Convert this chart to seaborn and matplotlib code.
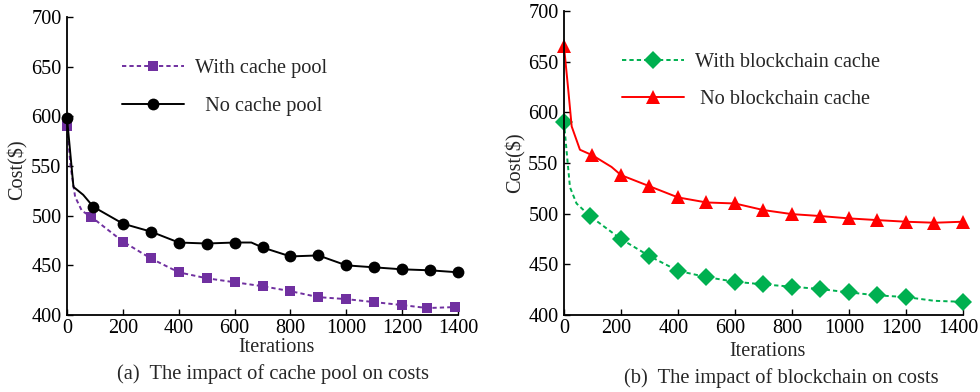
import numpy as np
import pandas as pd
import seaborn as sns
import matplotlib.pyplot as plt
from matplotlib.transforms import ScaledTranslation

# (a) cache pool -- line points incl. the knee right after iteration 0
pool_x = [0, 13, 29, 53, 86, 200, 300, 400, 500, 600, 700, 800, 900, 1000, 1100, 1200, 1290, 1390]
pool_y = [590, 549, 519, 505, 499, 474, 457, 443, 437, 433, 429, 424, 418, 416, 413, 410, 407, 408]
pool_marks = [0] + list(range(4, 18))

nopool_x = [0, 23, 58, 94, 200, 300, 400, 500, 600, 660, 700, 800, 900, 1000, 1100, 1200, 1300, 1400]
nopool_y = [598, 529, 521, 509, 492, 484, 473, 472, 473, 473, 468, 459, 460, 450, 448, 446, 445, 443]
nopool_marks = [0, 3, 4, 5, 6, 7, 8, 10, 11, 12, 13, 14, 15, 16, 17]

# (b) blockchain cache
bc_x = [0, 9, 21, 44, 91, 200, 300, 400, 500, 600, 700, 800, 900, 1000, 1100, 1200, 1300, 1400]
bc_y = [590.6, 562, 526, 510, 497.6, 474.9, 458.1, 443.6, 437.4, 432.8, 430.2, 427.9, 425.6, 422.3, 419.4, 417.7, 414, 413]
bc_marks = [0] + list(range(4, 16)) + [17]

nobc_x = [0, 15, 27, 56, 100, 167, 200, 300, 400, 500, 600, 700, 800, 900, 1000, 1100, 1200, 1300, 1400]
nobc_y = [665, 622, 586, 563, 557.5, 546, 538, 527, 516, 511, 510, 503.5, 499.5, 497.6, 495.3, 493.6, 492, 491, 492]
nobc_marks = [0, 4] + list(range(6, 19))

sns.set_style("ticks")
plt.rcParams['font.family'] = ['Liberation Serif', 'DejaVu Serif']
plt.rcParams['xtick.direction'] = 'in'
plt.rcParams['ytick.direction'] = 'in'

fs = 14.6

fig = plt.figure(figsize=(9.8, 3.92), dpi=100)
ax1 = fig.add_axes([0.0684, 0.1964, 0.399, 0.760])
ax2 = fig.add_axes([0.5755, 0.1964, 0.407, 0.776])

dot = (0, (2.2, 1.6))

sns.lineplot(x=pool_x, y=pool_y, ax=ax1, color='#7030A0', lw=1.4, linestyle=dot,
             marker='s', markersize=7.5, markeredgewidth=0, markevery=pool_marks,
             sort=False, errorbar=None, label='With cache pool')
sns.lineplot(x=nopool_x, y=nopool_y, ax=ax1, color='black', lw=1.4,
             marker='o', markersize=8.5, markeredgewidth=0, markevery=nopool_marks,
             sort=False, errorbar=None, label='  No cache pool')

sns.lineplot(x=bc_x, y=bc_y, ax=ax2, color='#00B050', lw=1.4, linestyle=dot,
             marker='D', markersize=9, markeredgewidth=0, markevery=bc_marks,
             sort=False, errorbar=None, label='With blockchain cache')
sns.lineplot(x=nobc_x, y=nobc_y, ax=ax2, color='#FF0000', lw=1.4,
             marker='^', markersize=10, markeredgewidth=0, markevery=nobc_marks,
             sort=False, errorbar=None, label=' No blockchain cache')

for ax, leg_x, leg_y, cap, xl, cx, cy in [
        (ax1, 0.14, 0.859, '(a)  The impact of cache pool on costs', (277, 348), 273, 374),
        (ax2, 0.145, 0.862, '(b)  The impact of blockchain on costs', (768, 352), 781, 378)]:
    ax.set_xlim(0, 1400)
    ax.set_ylim(400, 700)
    ax.set_xticks(np.arange(0, 1401, 200))
    ax.set_yticks(np.arange(400, 701, 50))
    ax.tick_params(length=4, width=1, pad=4, labelsize=fs, colors='black')
    ax.tick_params(axis='x', pad=3)
    for s in ['top', 'right']:
        ax.spines[s].set_visible(False)
    for s in ['left', 'bottom']:
        ax.spines[s].set_linewidth(1.3)
        ax.spines[s].set_color('black')
    for ln in ax.get_lines():
        ln.set_clip_on(False)
    ax.legend(loc='upper left', bbox_to_anchor=(leg_x, leg_y), frameon=False,
              handlelength=3.05, handletextpad=0.55, labelspacing=0.9,
              borderpad=0, borderaxespad=0, fontsize=fs)
    ax.set_xlabel('Iterations', fontsize=fs)
    ax.xaxis.set_label_coords(xl[0] / 980, 1 - xl[1] / 392, transform=fig.transFigure)
    ax.xaxis.label.set_va('center')
    ax.set_ylabel('Cost($)', fontsize=fs)
    fig.text(cx / 980, 1 - cy / 392, cap, ha='center', va='center', fontsize=14.8)

# right panel tick labels (except 0) sit a few pixels left of their ticks
shift = ScaledTranslation(-0.045, 0, fig.dpi_scale_trans)
for lab in ax2.get_xticklabels()[1:]:
    lab.set_transform(lab.get_transform() + shift)

ax1.yaxis.set_label_coords(18 / 980, 1 - 170 / 392, transform=fig.transFigure)
ax1.yaxis.label.set_va('center')
ax2.yaxis.set_label_coords(516 / 980, 1 - 163 / 392, transform=fig.transFigure)
ax2.yaxis.label.set_va('center')

fig.savefig('out.png', dpi=100)
